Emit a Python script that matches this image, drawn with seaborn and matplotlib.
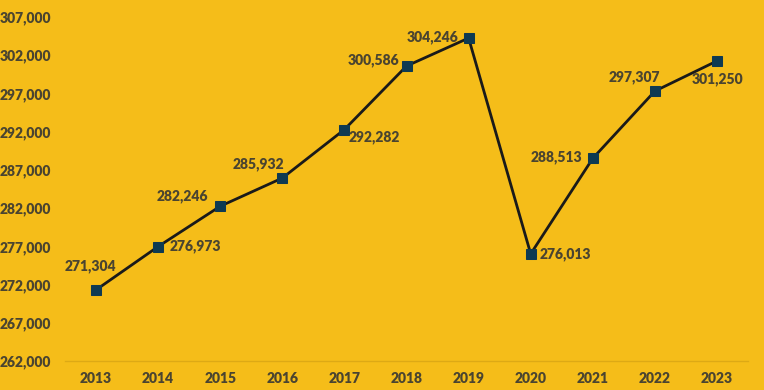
import matplotlib
matplotlib.use("Agg")
import matplotlib.pyplot as plt
import seaborn as sns
import pandas as pd

years = [2013, 2014, 2015, 2016, 2017, 2018, 2019, 2020, 2021, 2022, 2023]
values = [271304, 276973, 282246, 285932, 292282, 300586, 304246, 276013, 288513, 297307, 301250]
y_ticks = [262000, 267000, 272000, 277000, 282000, 287000, 292000, 297000, 302000, 307000]
# label offsets in pixels (dx, dy) relative to each point
label_offsets = [(-6, 24), (37, 0), (-38, 10), (-24, 14), (30, -8), (-33, 6),
                 (-36, 1), (35, 0), (-36, 1), (-21, 14), (0, -18)]

BG = "#F5BD19"
TXT = "#4A4430"

sns.set_theme(style="white")
plt.rcParams["font.family"] = ["Lato", "DejaVu Sans"]

df = pd.DataFrame({"year": years, "value": values})

fig = plt.figure(figsize=(7.64, 3.90), dpi=100, facecolor=BG)
ax = fig.add_axes([0.0851, 0.0744, 0.894, 0.8820])
ax.set_facecolor(BG)

sns.lineplot(data=df, x="year", y="value", ax=ax, color="#1A1A1A", linewidth=2,
             marker="s", markersize=7, markerfacecolor="#0E3A52",
             markeredgecolor="#0E3A52")

for x, y, (dx, dy) in zip(years, values, label_offsets):
    ax.annotate(f"{y:,}", (x, y), xytext=(dx, dy), textcoords="offset pixels",
                ha="center", va="center", fontsize=10, fontweight="heavy", color=TXT)

ax.set_xlim(2012.5, 2023.5)
ax.set_ylim(262000, 307000)
ax.set_xticks(years)
ax.set_xticklabels([str(y) for y in years])
ax.set_yticks(y_ticks)
ax.set_yticklabels([f"{v:,}" for v in y_ticks])
ax.tick_params(axis="both", length=0, labelsize=10, labelcolor=TXT)
ax.tick_params(axis="y", pad=10)
ax.tick_params(axis="x", pad=8)
for lab in ax.get_xticklabels() + ax.get_yticklabels():
    lab.set_fontweight("heavy")
ax.set_xlabel("")
ax.set_ylabel("")
for s in ["top", "right", "left"]:
    ax.spines[s].set_visible(False)
ax.spines["bottom"].set_color("#DDA915")
ax.spines["bottom"].set_linewidth(1)
ax.grid(False)

fig.savefig("out.png", dpi=100, facecolor=BG)
